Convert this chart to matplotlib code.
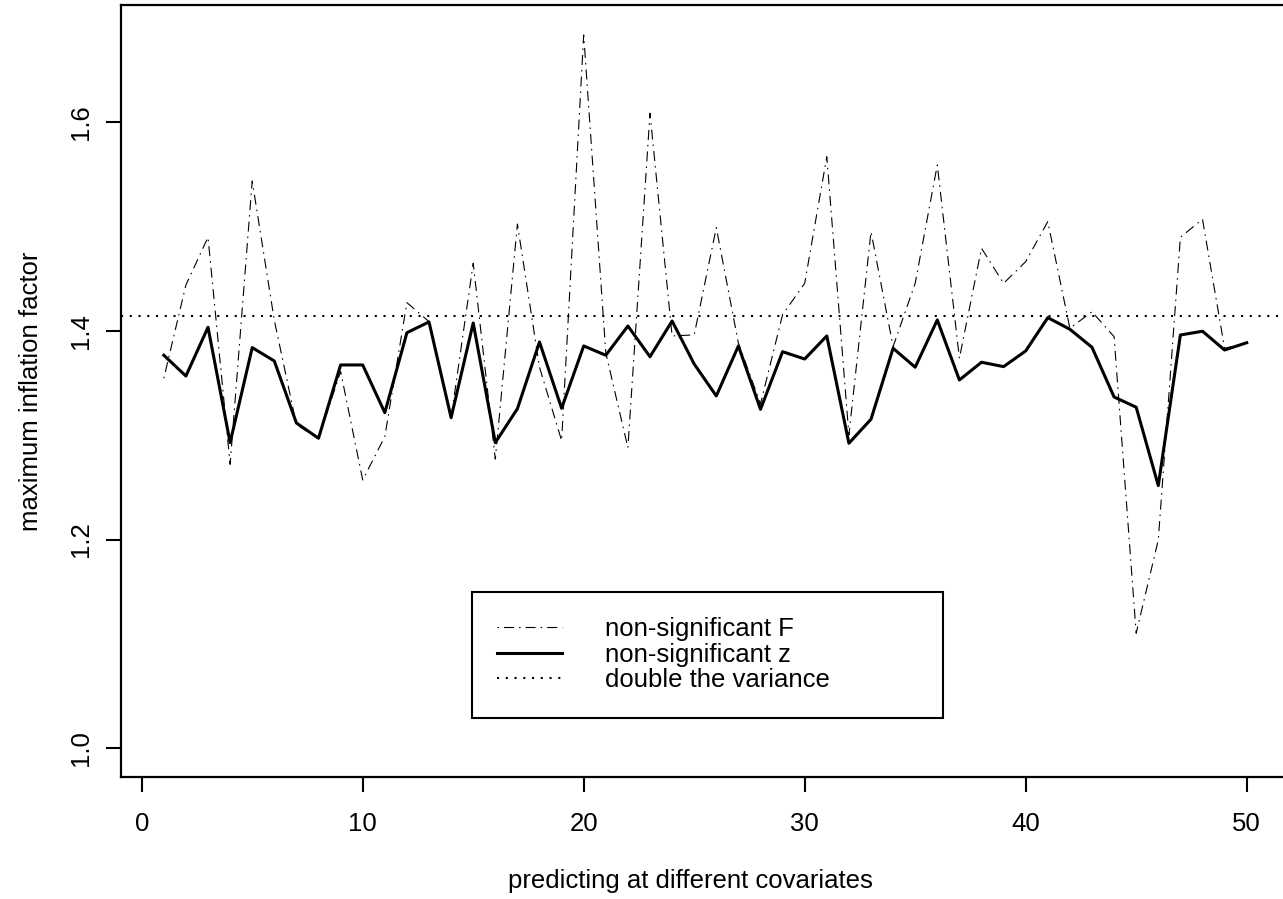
import matplotlib
import matplotlib.pyplot as plt
import numpy as np

matplotlib.use("Agg")

plt.rcParams["font.family"] = ["Liberation Sans", "DejaVu Sans"]

# index of the covariate set (1..50)
covariate_idx = list(range(1, 51))

# maximum inflation factor, non-significant F
infl_F = [
    1.3544, 1.4438, 1.4895, 1.2720, 1.5434, 1.4100, 1.3100, 1.2970, 1.3610, 1.2570,
    1.2985, 1.4269, 1.4087, 1.3167, 1.4646, 1.2770, 1.5022, 1.3650, 1.2947, 1.6833,
    1.3787, 1.2880, 1.6083, 1.3950, 1.3960, 1.4987, 1.3880, 1.3300, 1.4154, 1.4454,
    1.5667, 1.3001, 1.4949, 1.3848, 1.4454, 1.5588, 1.3736, 1.4790, 1.4454, 1.4662,
    1.5045, 1.4023, 1.4182, 1.3943, 1.1102, 1.1996, 1.4895, 1.5068, 1.3832, 1.3880,
]

# maximum inflation factor, non-significant z
infl_z = [
    1.3765, 1.3566, 1.4033, 1.2928, 1.3838, 1.3710, 1.3116, 1.2970, 1.3672, 1.3672,
    1.3215, 1.3981, 1.4084, 1.3167, 1.4074, 1.2928, 1.3253, 1.3892, 1.3257, 1.3854,
    1.3765, 1.4045, 1.3751, 1.4093, 1.3681, 1.3375, 1.3854, 1.3247, 1.3799, 1.3729,
    1.3950, 1.2922, 1.3152, 1.3832, 1.3650, 1.4103, 1.3528, 1.3698, 1.3656, 1.3806,
    1.4125, 1.4014, 1.3841, 1.3365, 1.3267, 1.2516, 1.3959, 1.3995, 1.3815, 1.3885,
]

double_var = np.sqrt(2.0)

x_ticks = [0, 10, 20, 30, 40, 50]
y_ticks = [1.0, 1.2, 1.4, 1.6]
y_ticklabels = ["1.0", "1.2", "1.4", "1.6"]

W, H = 1283, 899
fig = plt.figure(figsize=(W / 100, H / 100), dpi=100)
# plot region runs past the right edge of the figure, as in the original
ax = fig.add_axes([120.5 / W, 1 - 777 / H, 1169.5 / W, 772 / H])

ax.plot(covariate_idx, infl_F, color="black", lw=0.8,
        linestyle=(0, (1.4, 4.5, 9, 4.5)), label="non-significant F")
ax.plot(covariate_idx, infl_z, color="black", lw=2.2, label="non-significant z")
ax.axhline(double_var, color="black", lw=1.5, linestyle=(0, (1, 3.2)),
           label="double the variance")

ax.set_xlim(-0.96, 51.96)
ax.set_ylim(0.9725, 1.712)
ax.set_xticks(x_ticks)
ax.set_yticks(y_ticks)
ax.set_yticklabels(y_ticklabels, rotation=90, va="center")
ax.tick_params(axis="both", labelsize=18.5, width=1.5, length=10.5, color="black")
ax.tick_params(axis="y", pad=9)
ax.tick_params(axis="x", pad=15)
for sp in ax.spines.values():
    sp.set_linewidth(1.6)

ax.set_xlabel("predicting at different covariates", fontsize=18.5)
ax.set_ylabel("maximum inflation factor", fontsize=18.5)
ax.xaxis.set_label_coords((690 - 120.5) / 1169.5, (777 - 869) / 772)
ax.yaxis.set_label_coords((43 - 120.5) / 1169.5, 0.5)

leg = ax.legend(
    loc="upper left",
    bbox_to_anchor=(471.7 / W, 1 - 591.7 / H, (943.3 - 471.7) / W, 0.0),
    bbox_transform=fig.transFigure,
    mode="expand",
    fontsize=18.5,
    frameon=True,
    fancybox=False,
    edgecolor="black",
    framealpha=1,
    handlelength=2.5,
    handletextpad=1.68,
    borderpad=1.0,
    labelspacing=0.05,
    borderaxespad=0,
)
leg.get_frame().set_linewidth(1.5)

fig.savefig("out.png", dpi=100)
